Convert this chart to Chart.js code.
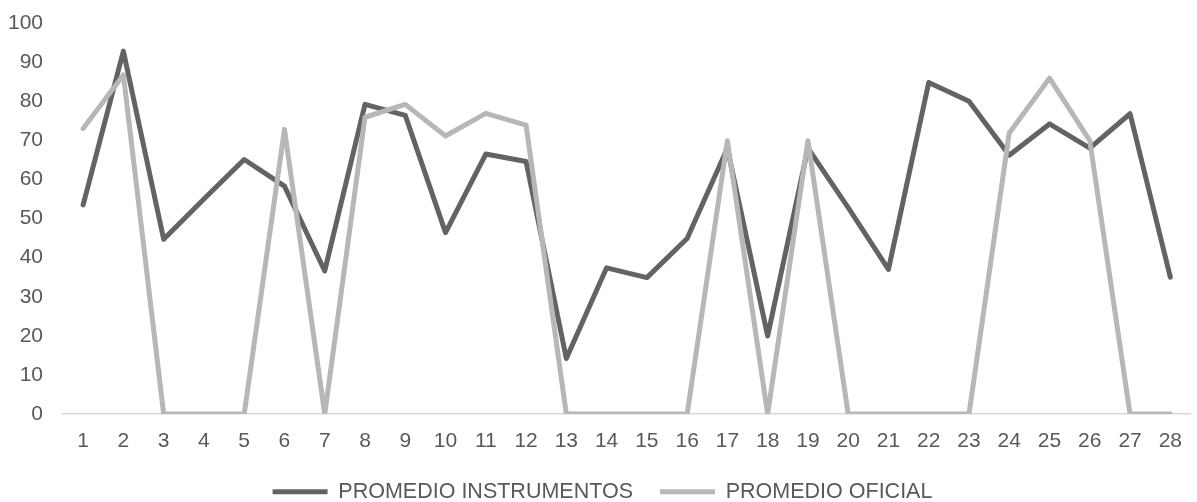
<!DOCTYPE html>
<html>
<head>
<meta charset="utf-8">
<script src="https://cdn.jsdelivr.net/npm/chart.js@4/dist/chart.umd.min.js"></script>
<style>
  html, body { margin: 0; padding: 0; background: #ffffff; }
  #wrap { width: 1197px; height: 502px; position: relative; }
</style>
</head>
<body>
<div id="wrap"><canvas id="chart" width="1197" height="502"></canvas></div>
<script>
// Categories along the x axis
const categories = ['1','2','3','4','5','6','7','8','9','10','11','12','13','14',
                    '15','16','17','18','19','20','21','22','23','24','25','26','27','28'];

// Series values
const promedioInstrumentos = [53.5, 92.8, 44.7, 55, 65.1, 58.3, 36.6, 79.2, 76.4, 46.4,
                              66.5, 64.6, 14.2, 37.4, 34.9, 44.9, 68, 20, 68, 52.8,
                              37, 84.8, 80, 66.2, 74.2, 68, 76.8, 35];
const promedioOficial = [73, 86.7, 0, 0, 0, 72.8, 0, 75.9, 79.2, 71.1,
                         76.9, 73.9, 0, 0, 0, 0, 69.9, 0, 69.9, 0,
                         0, 0, 0, 71.9, 85.9, 69.9, 0, 0];

// Series names
const seriesNames = ['PROMEDIO INSTRUMENTOS', 'PROMEDIO OFICIAL'];

// Y axis tick values
const yTicks = [0, 10, 20, 30, 40, 50, 60, 70, 80, 90, 100];

const FONT = '"Liberation Sans", Arial, sans-serif';
const TEXT = '#595959';

new Chart(document.getElementById('chart'), {
  type: 'line',
  data: {
    labels: categories,
    datasets: [
      {
        label: seriesNames[0],
        data: promedioInstrumentos,
        borderColor: '#636363',
        backgroundColor: '#636363',
        borderWidth: 5,
        borderCapStyle: 'round',
        borderJoinStyle: 'round',
        pointRadius: 0,
        pointStyle: 'line',
        tension: 0,
        order: 1
      },
      {
        label: seriesNames[1],
        data: promedioOficial,
        borderColor: '#b7b7b7',
        backgroundColor: '#b7b7b7',
        borderWidth: 5,
        borderCapStyle: 'round',
        borderJoinStyle: 'round',
        pointRadius: 0,
        pointStyle: 'line',
        tension: 0,
        order: 0
      }
    ]
  },
  options: {
    responsive: false,
    animation: false,
    layout: { padding: { top: 23, left: 8, right: 0, bottom: -10.6 } },
    plugins: {
      tooltip: { enabled: false },
      legend: {
        position: 'bottom',
        fullSize: true,
        labels: {
          usePointStyle: true,
          pointStyleWidth: 55,
          padding: 27,
          color: TEXT,
          font: { family: FONT, size: 21.5 },
          sort: (a, b) => a.datasetIndex - b.datasetIndex
        }
      }
    },
    scales: {
      x: {
        offset: true,
        afterFit: (axis) => { axis.height = 40; },
        grid: { display: false, drawTicks: false },
        border: { display: true, color: '#d9d9d9', width: 1.5 },
        ticks: {
          color: TEXT,
          font: { family: FONT, size: 21 },
          padding: 15,
          maxRotation: 0,
          autoSkip: false
        }
      },
      y: {
        min: 0,
        max: 100,
        afterBuildTicks: (axis) => { axis.ticks = yTicks.map(v => ({ value: v })); },
        afterFit: (axis) => {
          axis.width = 55;
          axis.paddingTop = 0;
          axis.paddingBottom = 0;
        },
        grid: { display: false, drawTicks: false },
        border: { display: false },
        ticks: {
          color: TEXT,
          font: { family: FONT, size: 21 },
          padding: 20
        }
      }
    }
  }
});
</script>
</body>
</html>
